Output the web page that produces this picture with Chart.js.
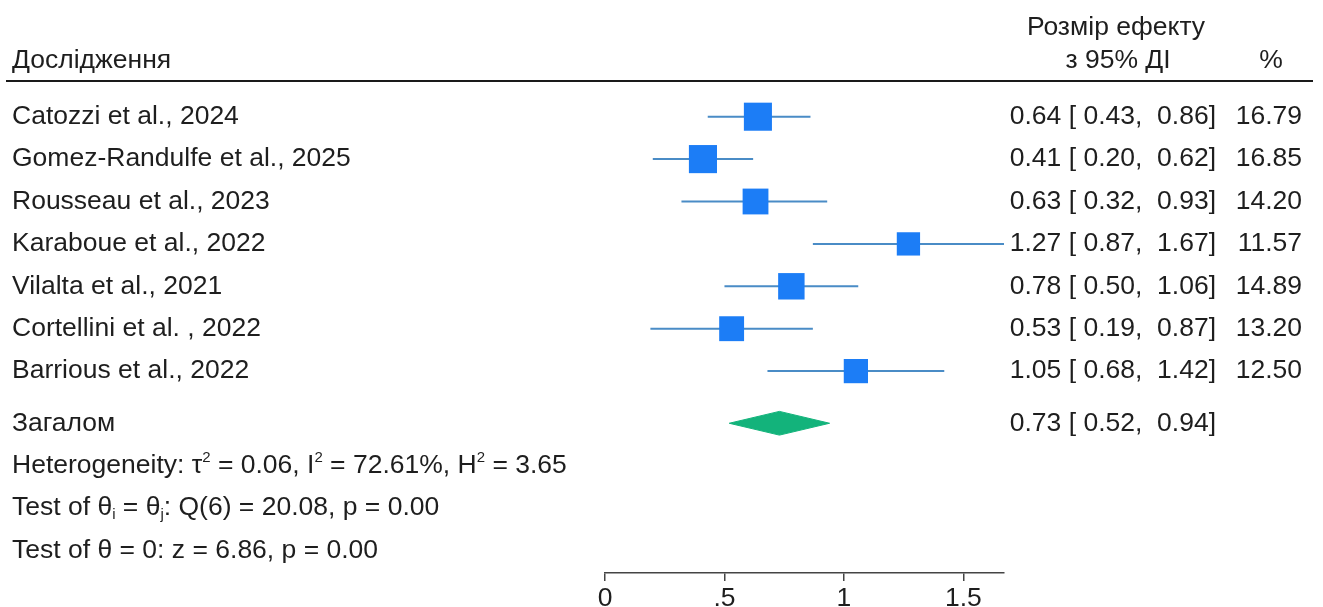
<!DOCTYPE html>
<html><head><meta charset="utf-8">
<script src="https://cdn.jsdelivr.net/npm/chart.js@4.4.1/dist/chart.umd.min.js"></script>
<style>html,body{margin:0;padding:0;background:#fff}#wrap{width:1323px;height:607px}</style>
</head><body><div id="wrap"><canvas id="c" width="1323" height="607"></canvas></div>
<script>
// ---- data ----
const studies = ["Catozzi et al., 2024", "Gomez-Randulfe et al., 2025", "Rousseau et al., 2023", "Karaboue et al., 2022", "Vilalta et al., 2021", "Cortellini et al. , 2022", "Barrious et al., 2022"];
const effect = [0.64, 0.41, 0.63, 1.27, 0.78, 0.53, 1.05];
const lower  = [0.43, 0.20, 0.32, 0.87, 0.50, 0.19, 0.68];
const upper  = [0.86, 0.62, 0.93, 1.67, 1.06, 0.87, 1.42];
const weight = [16.79, 16.85, 14.20, 11.57, 14.89, 13.20, 12.50];
const overallLabel = "Загалом";
const overallEffect = 0.73, overallLower = 0.52, overallUpper = 0.94;
const xTicks = [0, 0.5, 1, 1.5];
const xTickLabels = ["0", ".5", "1", "1.5"];
const headerStudy = "Дослідження";
const headerES1 = "Розмір ефекту";
const headerES2 = "з 95% ДІ";
const headerPct = "%";
const tau2 = "0.06", i2 = "72.61%", h2 = "3.65";
const qDf = 6, qVal = "20.08", qP = "0.00";
const zVal = "6.86", zP = "0.00";

// ---- style / layout ----
const FONT = '"Liberation Sans", Arial, sans-serif';
const FS = 26.5;
const TXT = '#1e1e1e';
const SQ_COLOR = '#1c7df6';
const CI_COLOR = '#4a8cc6';
const DIA_COLOR = '#13b37b';
const ROW_PX = 42.4, FIRST_ROW_PX = 116.7, TOP = 90, BOTTOM = 573;
const overallRow = 7.23;
const diamondHalf = 0.28;
const yMin = -(FIRST_ROW_PX - TOP) / ROW_PX;
const yMax = yMin + (BOTTOM - TOP) / ROW_PX;
const f2 = v => v.toFixed(2);
const esText = (e, l, u) => f2(e) + " [ " + f2(l) + ",  " + f2(u) + "]";

const ciData = [];
studies.forEach((s, i) => { ciData.push({x: lower[i], y: i}, {x: upper[i], y: i}, {x: null, y: null}); });
const sqData = studies.map((s, i) => ({x: effect[i], y: i}));
const diaData = [
  {x: overallLower, y: overallRow}, {x: overallEffect, y: overallRow - diamondHalf},
  {x: overallUpper, y: overallRow}, {x: overallEffect, y: overallRow + diamondHalf},
  {x: overallLower, y: overallRow}
];

function drawRich(ctx, x, y, segs) {
  ctx.textAlign = 'left';
  for (const s of segs) {
    const small = s.sup || s.sub;
    ctx.font = (small ? 15 : FS) + 'px ' + FONT;
    const dy = s.sup ? -8 : (s.sub ? 7 : 0);
    ctx.fillText(s.t, x, y + dy);
    x += ctx.measureText(s.t).width;
  }
}

const textPlugin = {
  id: 'forestText',
  afterDraw(chart) {
    const ctx = chart.ctx, ys = chart.scales.y;
    ctx.save();
    ctx.fillStyle = TXT;
    ctx.textBaseline = 'middle';
    ctx.font = FS + 'px ' + FONT;
    // headers
    ctx.textAlign = 'left';
    ctx.fillText(headerStudy, 12, 61);
    ctx.textAlign = 'center';
    ctx.fillText(headerES1, 1116, 28);
    ctx.fillText(headerES2, 1118, 61);
    ctx.fillText(headerPct, 1271, 61);
    ctx.strokeStyle = '#1a1a1a';
    ctx.lineWidth = 2;
    ctx.beginPath(); ctx.moveTo(6, 81); ctx.lineTo(1313, 81); ctx.stroke();
    // rows
    studies.forEach((s, i) => {
      const y = ys.getPixelForValue(i);
      ctx.textAlign = 'left';
      ctx.fillText(s, 12, y);
      ctx.textAlign = 'right';
      ctx.fillText(esText(effect[i], lower[i], upper[i]), 1216, y);
      ctx.fillText(f2(weight[i]), 1302, y);
    });
    let y = ys.getPixelForValue(overallRow);
    ctx.textAlign = 'left';
    ctx.fillText(overallLabel, 12, y);
    ctx.textAlign = 'right';
    ctx.fillText(esText(overallEffect, overallLower, overallUpper), 1216, y);
    drawRich(ctx, 12, ys.getPixelForValue(overallRow + 1), [
      {t: "Heterogeneity: τ"}, {t: "2", sup: 1}, {t: " = " + tau2 + ", I"}, {t: "2", sup: 1},
      {t: " = " + i2 + ", H"}, {t: "2", sup: 1}, {t: " = " + h2}
    ]);
    drawRich(ctx, 12, ys.getPixelForValue(overallRow + 2), [
      {t: "Test of θ"}, {t: "i", sub: 1}, {t: " = θ"}, {t: "j", sub: 1},
      {t: ": Q(" + qDf + ") = " + qVal + ", p = " + qP}
    ]);
    drawRich(ctx, 12, ys.getPixelForValue(overallRow + 3), [
      {t: "Test of θ = 0: z = " + zVal + ", p = " + zP}
    ]);
    ctx.restore();
  }
};

new Chart(document.getElementById('c'), {
  type: 'scatter',
  data: {
    datasets: [
      {type: 'scatter', data: sqData, order: 0, pointStyle: 'rect',
       pointRadius: weight.map(w => 6.85 * Math.sqrt(w) / Math.SQRT2),
       pointHoverRadius: weight.map(w => 6.85 * Math.sqrt(w) / Math.SQRT2),
       backgroundColor: SQ_COLOR, borderWidth: 0},
      {type: 'line', data: diaData, order: 1, fill: 'shape', showLine: true, tension: 0,
       borderColor: DIA_COLOR, backgroundColor: DIA_COLOR, borderWidth: 1, pointRadius: 0},
      {type: 'line', data: ciData, order: 2, showLine: true, spanGaps: false, tension: 0,
       borderColor: CI_COLOR, borderWidth: 2, pointRadius: 0, fill: false}
    ]
  },
  options: {
    responsive: false, animation: false, events: [],
    layout: {padding: {left: 605, right: 1323 - 1004, top: TOP, bottom: 0}},
    plugins: {legend: {display: false}, tooltip: {enabled: false}},
    scales: {
      x: {type: 'linear', position: 'bottom', min: 0, max: Math.max(...upper),
          afterBuildTicks: s => { s.ticks = xTicks.map(v => ({value: v})); },
          afterFit: s => { s.height = 607 - BOTTOM; },
          grid: {drawOnChartArea: false, drawTicks: true, tickLength: 8, color: '#444', lineWidth: 1.5},
          border: {display: true, color: '#444', width: 1.5},
          ticks: {autoSkip: false, maxRotation: 0, padding: 2, color: TXT,
                  font: {family: FONT, size: FS},
                  callback: (v, i) => xTickLabels[i]}},
      y: {type: 'linear', display: false, reverse: true, min: yMin, max: yMax}
    }
  },
  plugins: [textPlugin]
});
</script></body></html>
